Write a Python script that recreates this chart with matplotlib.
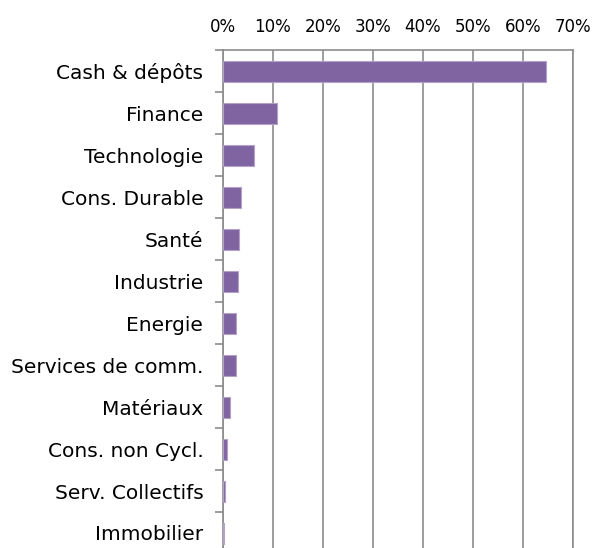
import matplotlib
matplotlib.use("Agg")
import matplotlib.pyplot as plt
import numpy as np
from matplotlib.ticker import FuncFormatter, FixedLocator

categories = ["Cash & dépôts", "Finance", "Technologie", "Cons. Durable", "Santé",
              "Industrie", "Energie", "Services de comm.", "Matériaux",
              "Cons. non Cycl.", "Serv. Collectifs", "Immobilier"]
values = [64.5, 10.8, 6.2, 3.65, 3.2, 3.05, 2.6, 2.6, 1.4, 0.95, 0.4, 0.25]
xticks = [0, 10, 20, 30, 40, 50, 60, 70]

plt.rcParams['font.family'] = ['DejaVu Sans']

fig = plt.figure(figsize=(5.93, 5.48), dpi=100)
ax = fig.add_axes([222.7/593, 1 - 554/548, (573.3-222.7)/593, 504/548])

y = np.arange(len(categories))
ax.barh(y, values, height=0.5, color="#8064A2", edgecolor="#B3A2C7", linewidth=0.8, zorder=3)
ax.set_ylim(len(categories) - 0.5, -0.5)
ax.set_xlim(0, 70)

ax.xaxis.tick_top()
ax.set_xticks(xticks)
ax.xaxis.set_major_formatter(FuncFormatter(lambda v, p: f"{int(v)}%"))
ax.tick_params(axis='x', length=0, pad=10, labelsize=12, colors="#000000")
ax.grid(axis='x', color="#8C8C8C", linewidth=1.2, zorder=0)

ax.set_yticks(y)
ax.set_yticklabels(categories)
ax.yaxis.set_minor_locator(FixedLocator(np.arange(-0.5, len(categories) + 0.5, 1)))
ax.tick_params(axis='y', which='major', length=0, pad=14, labelsize=14.5)
ax.tick_params(axis='y', which='minor', length=6, width=1.2, color="#8C8C8C")

for s in ['top', 'left', 'right', 'bottom']:
    ax.spines[s].set_color("#8C8C8C")
    ax.spines[s].set_linewidth(1.2)

fig.savefig("out.png", dpi=100)
